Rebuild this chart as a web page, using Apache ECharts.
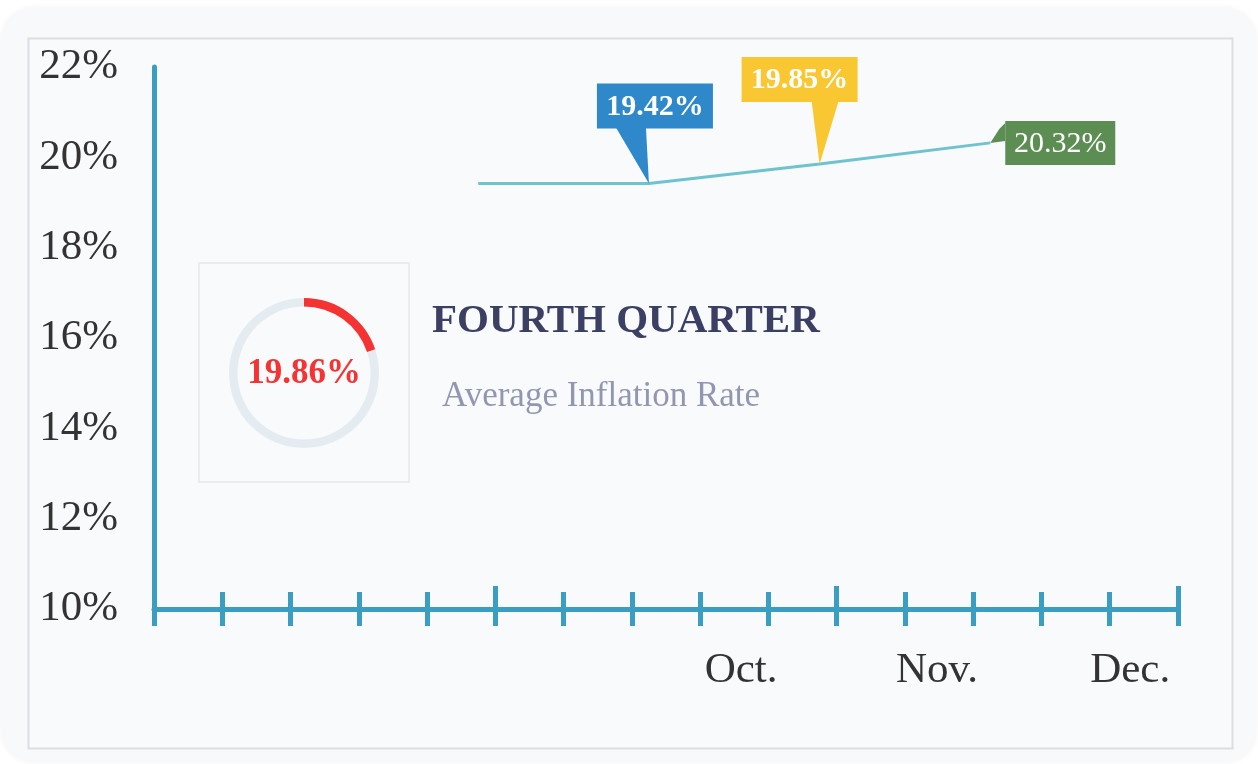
<!DOCTYPE html>
<html>
<head>
<meta charset="utf-8">
<script src="https://cdn.jsdelivr.net/npm/echarts@6/dist/echarts.min.js"></script>
<style>
html,body{margin:0;padding:0;background:#ffffff;}
#chart{width:1258px;height:764px;}
</style>
</head>
<body>
<div id="chart"></div>
<script>
// ---- data ----
const monthLabels = ['Oct.', 'Nov.', 'Dec.'];
const monthPositions = [8.6, 11.47, 14.3];
const lineX = [4.75, 7.25, 9.75, 12.25];
const lineValues = [19.42, 19.42, 19.85, 20.32];
const calloutPoints = [1, 2, 3];
const quarterAverage = 19.86;
const yMin = 10, yMax = 22, yStep = 2;
const titleText = 'FOURTH QUARTER';
const subtitleText = 'Average Inflation Rate';

// ---- styles ----
const FONT = '"Liberation Serif", "Times New Roman", serif';
const AXIS_COLOR = '#3a9ec2';
const calloutStyles = [
  { color: '#2e88c9', box: [-52, -100, 116, 45], tail: [[-33, -56], [-3, -56], [0, 0]], weight: 'bold', size: 30 },
  { color: '#f9c731', box: [-78, -107, 116, 45], tail: [[-8, -63], [19, -63], [0, 0]], weight: 'bold', size: 30 },
  { color: '#5c8d52', box: [15, -22, 110, 44], tail: [[15, -20], [9, -14], [0, 0], [15, -2]], weight: 'normal', size: 30 }
];

const lineData = lineX.map((x, i) => [x, lineValues[i]]);
const calloutData = calloutPoints.map(i => [lineX[i], lineValues[i]]);

const chart = echarts.init(document.getElementById('chart'));
chart.setOption({
  animation: false,
  backgroundColor: '#ffffff',
  graphic: [
    { type: 'rect', z: -10, shape: { x: 2, y: 8, width: 1254, height: 754, r: 32 },
      style: { fill: '#f8f9fb', shadowBlur: 6, shadowColor: 'rgba(0,0,0,0.06)' } },
    { type: 'rect', z: -9, shape: { x: 28.5, y: 38.5, width: 1204, height: 710 },
      style: { fill: '#f9fafc', stroke: '#dcdee3', lineWidth: 2 } },
    { type: 'rect', z: -8, shape: { x: 199, y: 263, width: 210, height: 219 },
      style: { fill: 'rgba(0,0,0,0)', stroke: '#e6e8ec', lineWidth: 1.5 } },
    { type: 'text', z: 10, style: { text: titleText, x: 432, y: 321, verticalAlign: 'middle',
      fill: '#3b3f63', font: 'bold 41px ' + FONT } },
    { type: 'text', z: 10, style: { text: subtitleText, x: 442, y: 397, verticalAlign: 'middle',
      fill: '#9197b0', font: '35px ' + FONT } }
  ],
  grid: { left: 154, right: 80, top: 67, bottom: 155 },
  xAxis: [
    {
      type: 'value', min: 0, max: 15, interval: 1, position: 'bottom',
      axisLine: { show: true, lineStyle: { color: AXIS_COLOR, width: 5 } },
      axisTick: { show: true, length: 17, lineStyle: { color: AXIS_COLOR, width: 5 } },
      splitLine: { show: false },
      axisLabel: {
        customValues: monthPositions,
        formatter: v => { const i = monthPositions.findIndex(p => Math.abs(p - v) < 1e-6); return i >= 0 ? monthLabels[i] : ''; },
        margin: 40, fontSize: 43, color: '#333333', fontFamily: FONT
      }
    },
    {
      type: 'value', min: 0, max: 15, interval: 5, position: 'bottom',
      axisLine: { show: false },
      axisTick: { show: true, inside: true, length: 23, lineStyle: { color: AXIS_COLOR, width: 5 } },
      minorTick: { show: true, splitNumber: 5, length: 17, lineStyle: { color: AXIS_COLOR, width: 5 } },
      splitLine: { show: false }, minorSplitLine: { show: false },
      axisLabel: { show: false }
    }
  ],
  yAxis: {
    type: 'value', min: yMin, max: yMax, interval: yStep,
    axisLine: { show: true, lineStyle: { color: AXIS_COLOR, width: 5 } },
    axisTick: { show: false },
    splitLine: { show: false },
    axisLabel: { formatter: '{value}%', margin: 36, fontSize: 43, color: '#333333', fontFamily: FONT }
  },
  series: [
    {
      type: 'line', xAxisIndex: 0, yAxisIndex: 0, data: lineData, symbol: 'none', z: 3,
      lineStyle: { color: '#6ec3cf', width: 3 }
    },
    {
      type: 'custom', xAxisIndex: 0, yAxisIndex: 0, data: calloutData, z: 5,
      encode: { x: 0, y: 1 },
      renderItem: function (params, api) {
        const p = api.coord([api.value(0), api.value(1)]);
        const s = calloutStyles[params.dataIndex];
        const txt = api.value(1).toFixed(2) + '%';
        return {
          type: 'group',
          children: [
            { type: 'polygon', shape: { points: s.tail.map(d => [p[0] + d[0], p[1] + d[1]]) }, style: { fill: s.color } },
            { type: 'rect', shape: { x: p[0] + s.box[0], y: p[1] + s.box[1], width: s.box[2], height: s.box[3] }, style: { fill: s.color } },
            { type: 'text', style: { text: txt, x: p[0] + s.box[0] + s.box[2] / 2, y: p[1] + s.box[1] + s.box[3] / 2 + 1,
              align: 'center', verticalAlign: 'middle', fill: '#ffffff', font: s.weight + ' ' + s.size + 'px ' + FONT } }
          ]
        };
      }
    },
    {
      type: 'gauge', center: [304, 373], radius: 75, startAngle: 90, endAngle: -270,
      min: 0, max: 100, z: 4,
      progress: { show: true, width: 8.5, roundCap: false, itemStyle: { color: '#f53333' } },
      axisLine: { roundCap: false, lineStyle: { width: 8.5, color: [[1, '#e4ecf1']] } },
      pointer: { show: false }, anchor: { show: false },
      axisTick: { show: false }, splitLine: { show: false }, axisLabel: { show: false },
      title: { show: false },
      detail: { offsetCenter: [0, 1], formatter: v => v.toFixed(2) + '%', fontSize: 35, fontWeight: 'bold',
        color: '#f53333', fontFamily: FONT },
      data: [{ value: quarterAverage }]
    }
  ]
});
</script>
</body>
</html>
